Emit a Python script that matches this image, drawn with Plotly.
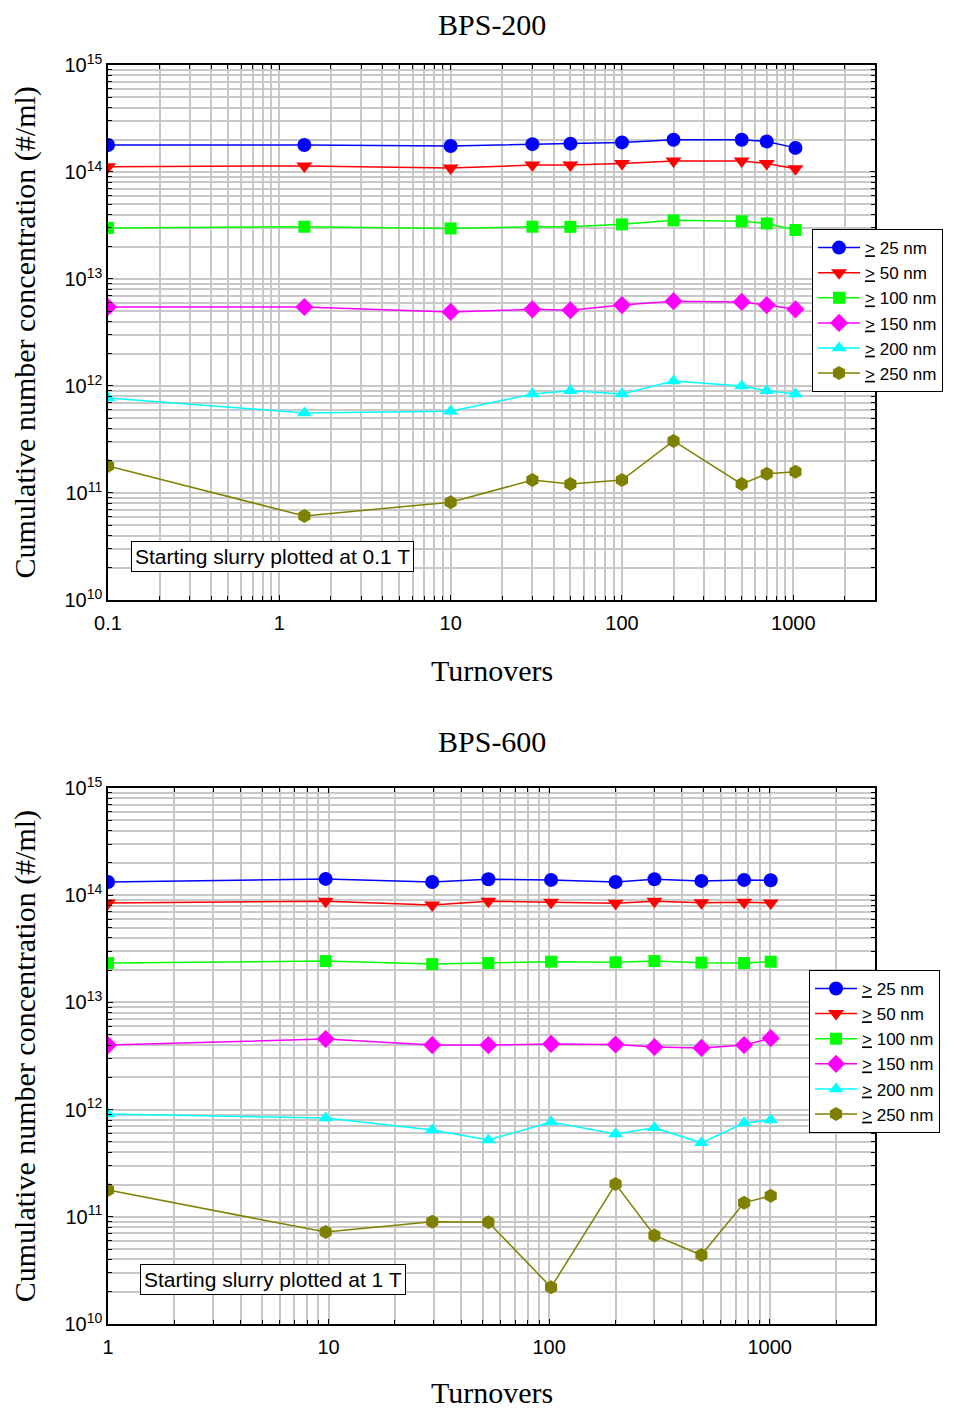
import plotly.graph_objects as go
import math

# ---------------- data ----------------
labels = ["<u>&gt;</u> 25 nm", "<u>&gt;</u> 50 nm", "<u>&gt;</u> 100 nm",
          "<u>&gt;</u> 150 nm", "<u>&gt;</u> 200 nm", "<u>&gt;</u> 250 nm"]
colors = ["#0000FF", "#FF0000", "#00FF00", "#FF00FF", "#00FFFF", "#808000"]
symbols = ["circle", "triangle-down", "square", "diamond", "triangle-up", "hexagon"]

t200 = [0.1, 1.4, 10, 30, 50, 100, 200, 500, 700, 1030]
bps200_25 = [1.79e14, 1.79e14, 1.75e14, 1.82e14, 1.84e14, 1.89e14, 2.0e14, 2.0e14, 1.93e14, 1.68e14]
bps200_50 = [1.12e14, 1.14e14, 1.09e14, 1.16e14, 1.16e14, 1.2e14, 1.27e14, 1.27e14, 1.2e14, 1.07e14]
bps200_100 = [3.0e13, 3.08e13, 2.97e13, 3.08e13, 3.07e13, 3.24e13, 3.53e13, 3.46e13, 3.3e13, 2.87e13]
bps200_150 = [5.47e12, 5.47e12, 4.92e12, 5.2e12, 5.1e12, 5.7e12, 6.2e12, 6.1e12, 5.7e12, 5.2e12]
bps200_200 = [7.7e11, 5.6e11, 5.8e11, 8.4e11, 9.0e11, 8.4e11, 1.11e12, 1.0e12, 9.0e11, 8.4e11]
bps200_250 = [1.79e11, 6.1e10, 8.2e10, 1.32e11, 1.21e11, 1.32e11, 3.06e11, 1.21e11, 1.51e11, 1.58e11]

t600 = [1, 9.7, 29.5, 53, 102, 200, 300, 490, 765, 1010]
bps600_25 = [1.33e14, 1.42e14, 1.33e14, 1.41e14, 1.39e14, 1.33e14, 1.41e14, 1.36e14, 1.39e14, 1.38e14]
bps600_50 = [8.45e13, 8.8e13, 8.1e13, 8.8e13, 8.6e13, 8.4e13, 8.8e13, 8.5e13, 8.6e13, 8.45e13]
bps600_100 = [2.33e13, 2.43e13, 2.28e13, 2.33e13, 2.4e13, 2.37e13, 2.43e13, 2.35e13, 2.33e13, 2.4e13]
bps600_150 = [4.0e12, 4.56e12, 4.0e12, 4.0e12, 4.1e12, 4.05e12, 3.84e12, 3.76e12, 4.0e12, 4.64e12]
bps600_200 = [9.1e11, 8.35e11, 6.46e11, 5.2e11, 7.66e11, 5.92e11, 6.76e11, 4.9e11, 7.5e11, 8.0e11]
bps600_250 = [1.78e11, 7.2e10, 9.0e10, 8.9e10, 2.2e10, 2.02e11, 6.7e10, 4.4e10, 1.35e11, 1.57e11]

top_series = [bps200_25, bps200_50, bps200_100, bps200_150, bps200_200, bps200_250]
bot_series = [bps600_25, bps600_50, bps600_100, bps600_150, bps600_200, bps600_250]

y_tickvals = [1e10, 1e11, 1e12, 1e13, 1e14, 1e15]
y_ticktext = ["10<sup>10</sup>", "10<sup>11</sup>", "10<sup>12</sup>",
              "10<sup>13</sup>", "10<sup>14</sup>", "10<sup>15</sup>"]
x1_tickvals = [0.1, 1, 10, 100, 1000]
x1_ticktext = ["0.1", "1", "10", "100", "1000"]
x2_tickvals = [1, 10, 100, 1000]
x2_ticktext = ["1", "10", "100", "1000"]

# ---------------- figure ----------------
fig = go.Figure()

marker_sizes = [14, 14, 12, 14, 13, 14]

for i in range(6):
    fig.add_trace(go.Scatter(
        x=t200, y=top_series[i], name=labels[i], mode="lines+markers",
        line=dict(color=colors[i], width=1.5),
        marker=dict(symbol=symbols[i], size=marker_sizes[i], color=colors[i]),
        xaxis="x", yaxis="y", legend="legend"))
for i in range(6):
    fig.add_trace(go.Scatter(
        x=t600, y=bot_series[i], name=labels[i], mode="lines+markers",
        line=dict(color=colors[i], width=1.5),
        marker=dict(symbol=symbols[i], size=marker_sizes[i], color=colors[i]),
        xaxis="x2", yaxis="y2", legend="legend2"))

tickfont = dict(family="Liberation Sans, Arial", size=20, color="black")
grid = "#C8C8C8"

def xaxis(rng, tv, tt, anchor):
    return dict(type="log", range=rng, tickvals=tv, ticktext=tt,
                showline=True, linecolor="black", linewidth=1.5, mirror="allticks",
                ticks="inside", ticklen=5, tickcolor="black", tickwidth=1,
                showgrid=True, gridcolor=grid, gridwidth=1.5,
                minor=dict(dtick="D1", ticks="inside", ticklen=4, tickcolor="black",
                           showgrid=True, gridcolor=grid, gridwidth=1.5),
                tickfont=tickfont, anchor=anchor, zeroline=False, domain=[0, 1],
                ticklabelstandoff=4)

def yaxis(domain, anchor):
    return dict(type="log", range=[10, 15], tickvals=y_tickvals, ticktext=y_ticktext,
                showline=True, linecolor="black", linewidth=1.5, mirror="allticks",
                ticks="inside", ticklen=5, tickcolor="black", tickwidth=1,
                showgrid=True, gridcolor=grid, gridwidth=1.5,
                minor=dict(dtick="D1", ticks="inside", ticklen=4, tickcolor="black",
                           showgrid=True, gridcolor=grid, gridwidth=1.5),
                tickfont=tickfont, anchor=anchor, domain=domain, zeroline=False)

legfont = dict(family="Liberation Sans, Arial", size=17, color="black")

# plot area: 100..868 x, 57..1316 y inside a 946x1402 figure
fig.update_layout(
    width=946, height=1402,
    margin=dict(l=100, r=78, t=57, b=86),
    paper_bgcolor="white", plot_bgcolor="white",
    xaxis=xaxis([-1, math.log10(3000)], x1_tickvals, x1_ticktext, "y"),
    yaxis=yaxis([0.5751, 1.0], "x"),
    xaxis2=xaxis([0, math.log10(3000)], x2_tickvals, x2_ticktext, "y2"),
    yaxis2=yaxis([0.0, 0.4257], "x2"),
    legend=dict(x=0.9167, y=0.8697, xanchor="left", yanchor="top",
                bordercolor="black", borderwidth=1, bgcolor="white",
                font=legfont, tracegroupgap=0, itemwidth=42),
    legend2=dict(x=0.9128, y=0.2812, xanchor="left", yanchor="top",
                 bordercolor="black", borderwidth=1, bgcolor="white",
                 font=legfont, tracegroupgap=0, itemwidth=42),
    showlegend=True,
)

serif = dict(family="Liberation Serif, Times New Roman", size=30, color="black")
ann = [
    dict(text="BPS-200", x=0.5, y=1.0321, xref="paper", yref="paper", showarrow=False,
         xanchor="center", yanchor="middle", font=serif),
    dict(text="BPS-600", x=0.5, y=0.4623, xref="paper", yref="paper", showarrow=False,
         xanchor="center", yanchor="middle", font=serif),
    dict(text="Turnovers", x=0.5, y=0.5187, xref="paper", yref="paper", showarrow=False,
         xanchor="center", yanchor="middle", font=serif),
    dict(text="Turnovers", x=0.5, y=-0.0548, xref="paper", yref="paper", showarrow=False,
         xanchor="center", yanchor="middle", font=serif),
    dict(text="Cumulative number concentration (#/ml)", x=-0.108, y=0.7876,
         xref="paper", yref="paper", showarrow=False, textangle=-90,
         xanchor="center", yanchor="middle", font=serif),
    dict(text="Cumulative number concentration (#/ml)", x=-0.108, y=0.2128,
         xref="paper", yref="paper", showarrow=False, textangle=-90,
         xanchor="center", yanchor="middle", font=serif),
    dict(text="Starting slurry plotted at 0.1 T", x=0.030, y=0.610,
         xref="paper", yref="paper", showarrow=False, xanchor="left", yanchor="middle",
         bordercolor="black", borderwidth=1, borderpad=3, bgcolor="white",
         font=dict(family="Liberation Sans, Arial", size=21, color="black")),
    dict(text="Starting slurry plotted at 1 T", x=0.0417, y=0.035,
         xref="paper", yref="paper", showarrow=False, xanchor="left", yanchor="middle",
         bordercolor="black", borderwidth=1, borderpad=3, bgcolor="white",
         font=dict(family="Liberation Sans, Arial", size=21, color="black")),
]
fig.update_layout(annotations=ann)

fig.write_html("out.html")
